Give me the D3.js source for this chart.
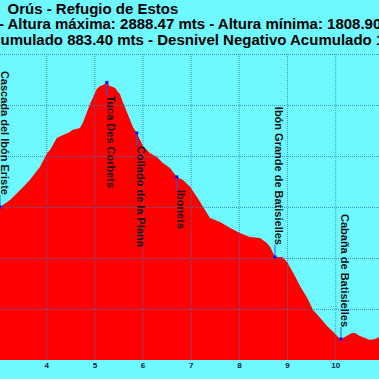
<!DOCTYPE html>
<html><head><meta charset="utf-8">
<script src="https://cdn.jsdelivr.net/npm/d3@7"></script>
<style>html,body{margin:0;padding:0;background:#6ef8ff;}svg{display:block;}</style>
</head><body>
<script>
// distance (km) and elevation (m) of the profile
const distKm = [2.98,3.04,3.25,3.46,3.66,3.87,4.02,4.08,4.22,4.35,4.49,4.54,4.70,4.76,4.91,5.05,5.12,5.18,5.26,5.32,5.39,5.43,5.49,5.53,5.59,5.70,5.80,5.88,6.01,6.15,6.30,6.42,6.57,6.71,6.84,6.99,7.13,7.26,7.40,7.61,7.82,8.02,8.23,8.44,8.58,8.65,8.75,8.90,9.00,9.13,9.27,9.42,9.54,9.69,9.83,9.96,10.06,10.12,10.20,10.27,10.35,10.41,10.51,10.62,10.72,10.83,10.91,11.03];
const elevM  = [2392,2400,2427,2467,2506,2557,2612,2624,2671,2682,2694,2702,2710,2729,2804,2863,2875,2878,2888.47,2875,2871,2867,2851,2843,2812,2761,2714,2690,2639,2612,2596,2573,2553,2518,2506,2478,2439,2400,2357,2341,2318,2298,2282,2278,2259,2243,2204,2204,2184,2141,2090,2043,1996,1965,1933,1910,1890,1882,1890,1898,1906,1906,1894,1886,1878,1882,1890,1894];
// waypoints
const wpNames = ["Cascada del Ibón Eriste","Tuca Des Corbets","Collado de la Plana","Ibonets","Ibón Grande de Batisielles","Cabaña de Batisielles"];
const wpKm    = [3.04,5.26,5.88,6.71,8.75,10.12];
const wpElev  = [2400,2888.47,2690,2518,2204,1882];
const wpSide  = ["up","down","down","down","up","up"];
// axis ticks
const xGrid = [3,4,5,6,7,8,9,10,11];
const xTickLabels = [4,5,6,7,8,9,10];
const yTicks = [1800,2000,2200,2400,2600,2800,3000];
// titles
const title1 = "Orús - Refugio de Estos";
const title2 = "- Altura máxima: 2888.47 mts - Altura mínima: 1808.90 mts";
const title3 = "Desnivel Positivo Acumulado 883.40 mts - Desnivel Negativo Acumulado 1";

const W = 379, H = 379;
const svg = d3.select("body").append("svg").attr("width", W).attr("height", H);
svg.append("rect").attr("width", W).attr("height", H).attr("fill", "#6ef8ff");

const x = d3.scaleLinear().domain([4, 10]).range([46.2, 335.2]);
const y = d3.scaleLinear().domain([1800, 3000]).range([360, 54]);

svg.append("clipPath").attr("id", "plot").append("rect")
  .attr("x", -10).attr("y", 54).attr("width", W + 20).attr("height", 306);

const pts = distKm.map((d, i) => [d, elevM[i]]);
const area = d3.area().x(d => x(d[0])).y0(y(1800)).y1(d => y(d[1]));
svg.append("path").datum(pts).attr("d", area).attr("fill", "#ff0000")
  .attr("clip-path", "url(#plot)");

// grid
const grid = svg.append("g").attr("clip-path", "url(#plot)");
grid.selectAll(".vg").data(xGrid).join("line")
  .attr("x1", d => x(d) + 0.5).attr("x2", d => x(d) + 0.5)
  .attr("y1", y(3000)).attr("y2", y(1800))
  .attr("stroke", "#2a7fd0").attr("stroke-width", 1).attr("stroke-dasharray", "1,1").attr("opacity", 0.8);
grid.selectAll(".hg").data(yTicks).join("line")
  .attr("x1", 0).attr("x2", W)
  .attr("y1", d => Math.round(y(d)) + 0.5).attr("y2", d => Math.round(y(d)) + 0.5)
  .attr("stroke", "#2a7fd0").attr("stroke-width", 1).attr("stroke-dasharray", "1,1").attr("opacity", 0.8);

// x axis tick labels
const xAxis = d3.axisBottom(x).tickValues(xTickLabels).tickSize(0).tickPadding(2).tickFormat(d3.format("d"));
const ax = svg.append("g").attr("transform", `translate(0,${y(1800)})`).call(xAxis);
ax.select(".domain").remove();
ax.selectAll("text").attr("font-family", "Liberation Sans, Arial, sans-serif")
  .attr("font-size", 8).attr("font-weight", "bold").attr("fill", "#102050");

// waypoints
const wp = svg.append("g");
wpNames.forEach((name, i) => {
  const px = x(wpKm[i]), py = y(wpElev[i]);
  const up = wpSide[i] === "up";
  const ty = up ? py - 12 : py + 13;
  wp.append("line").attr("x1", px).attr("x2", px).attr("y1", py).attr("y2", ty)
    .attr("stroke", "#1060ff").attr("stroke-width", 1);
  wp.append("rect").attr("x", px - 1.5).attr("y", py - 1.5).attr("width", 3).attr("height", 3).attr("fill", "#0000ff");
  wp.append("text").attr("transform", `translate(${Math.max(px, 1)},${ty}) rotate(90)`)
    .attr("text-anchor", up ? "end" : "start")
    .attr("font-family", "Liberation Sans, Arial, sans-serif").attr("font-size", 11)
    .attr("font-weight", "bold").attr("fill", "#111").text(name);
});

// titles
function titleLine(txt, baseline, anchorSub, targetX) {
  const t = svg.append("text").attr("y", baseline)
    .attr("font-family", "Liberation Sans, Arial, sans-serif").attr("font-size", 15)
    .attr("font-weight", "bold").attr("fill", "#000").text(txt);
  const idx = txt.indexOf(anchorSub);
  const off = idx > 0 ? t.node().getSubStringLength(0, idx) : 0;
  t.attr("x", targetX - off);
}
titleLine(title1, 13.5, "Orús", 7.5);
titleLine(title2, 29, "Altura", 7.5);
titleLine(title3, 45, "umulado", 0.5);
</script>
</body></html>
